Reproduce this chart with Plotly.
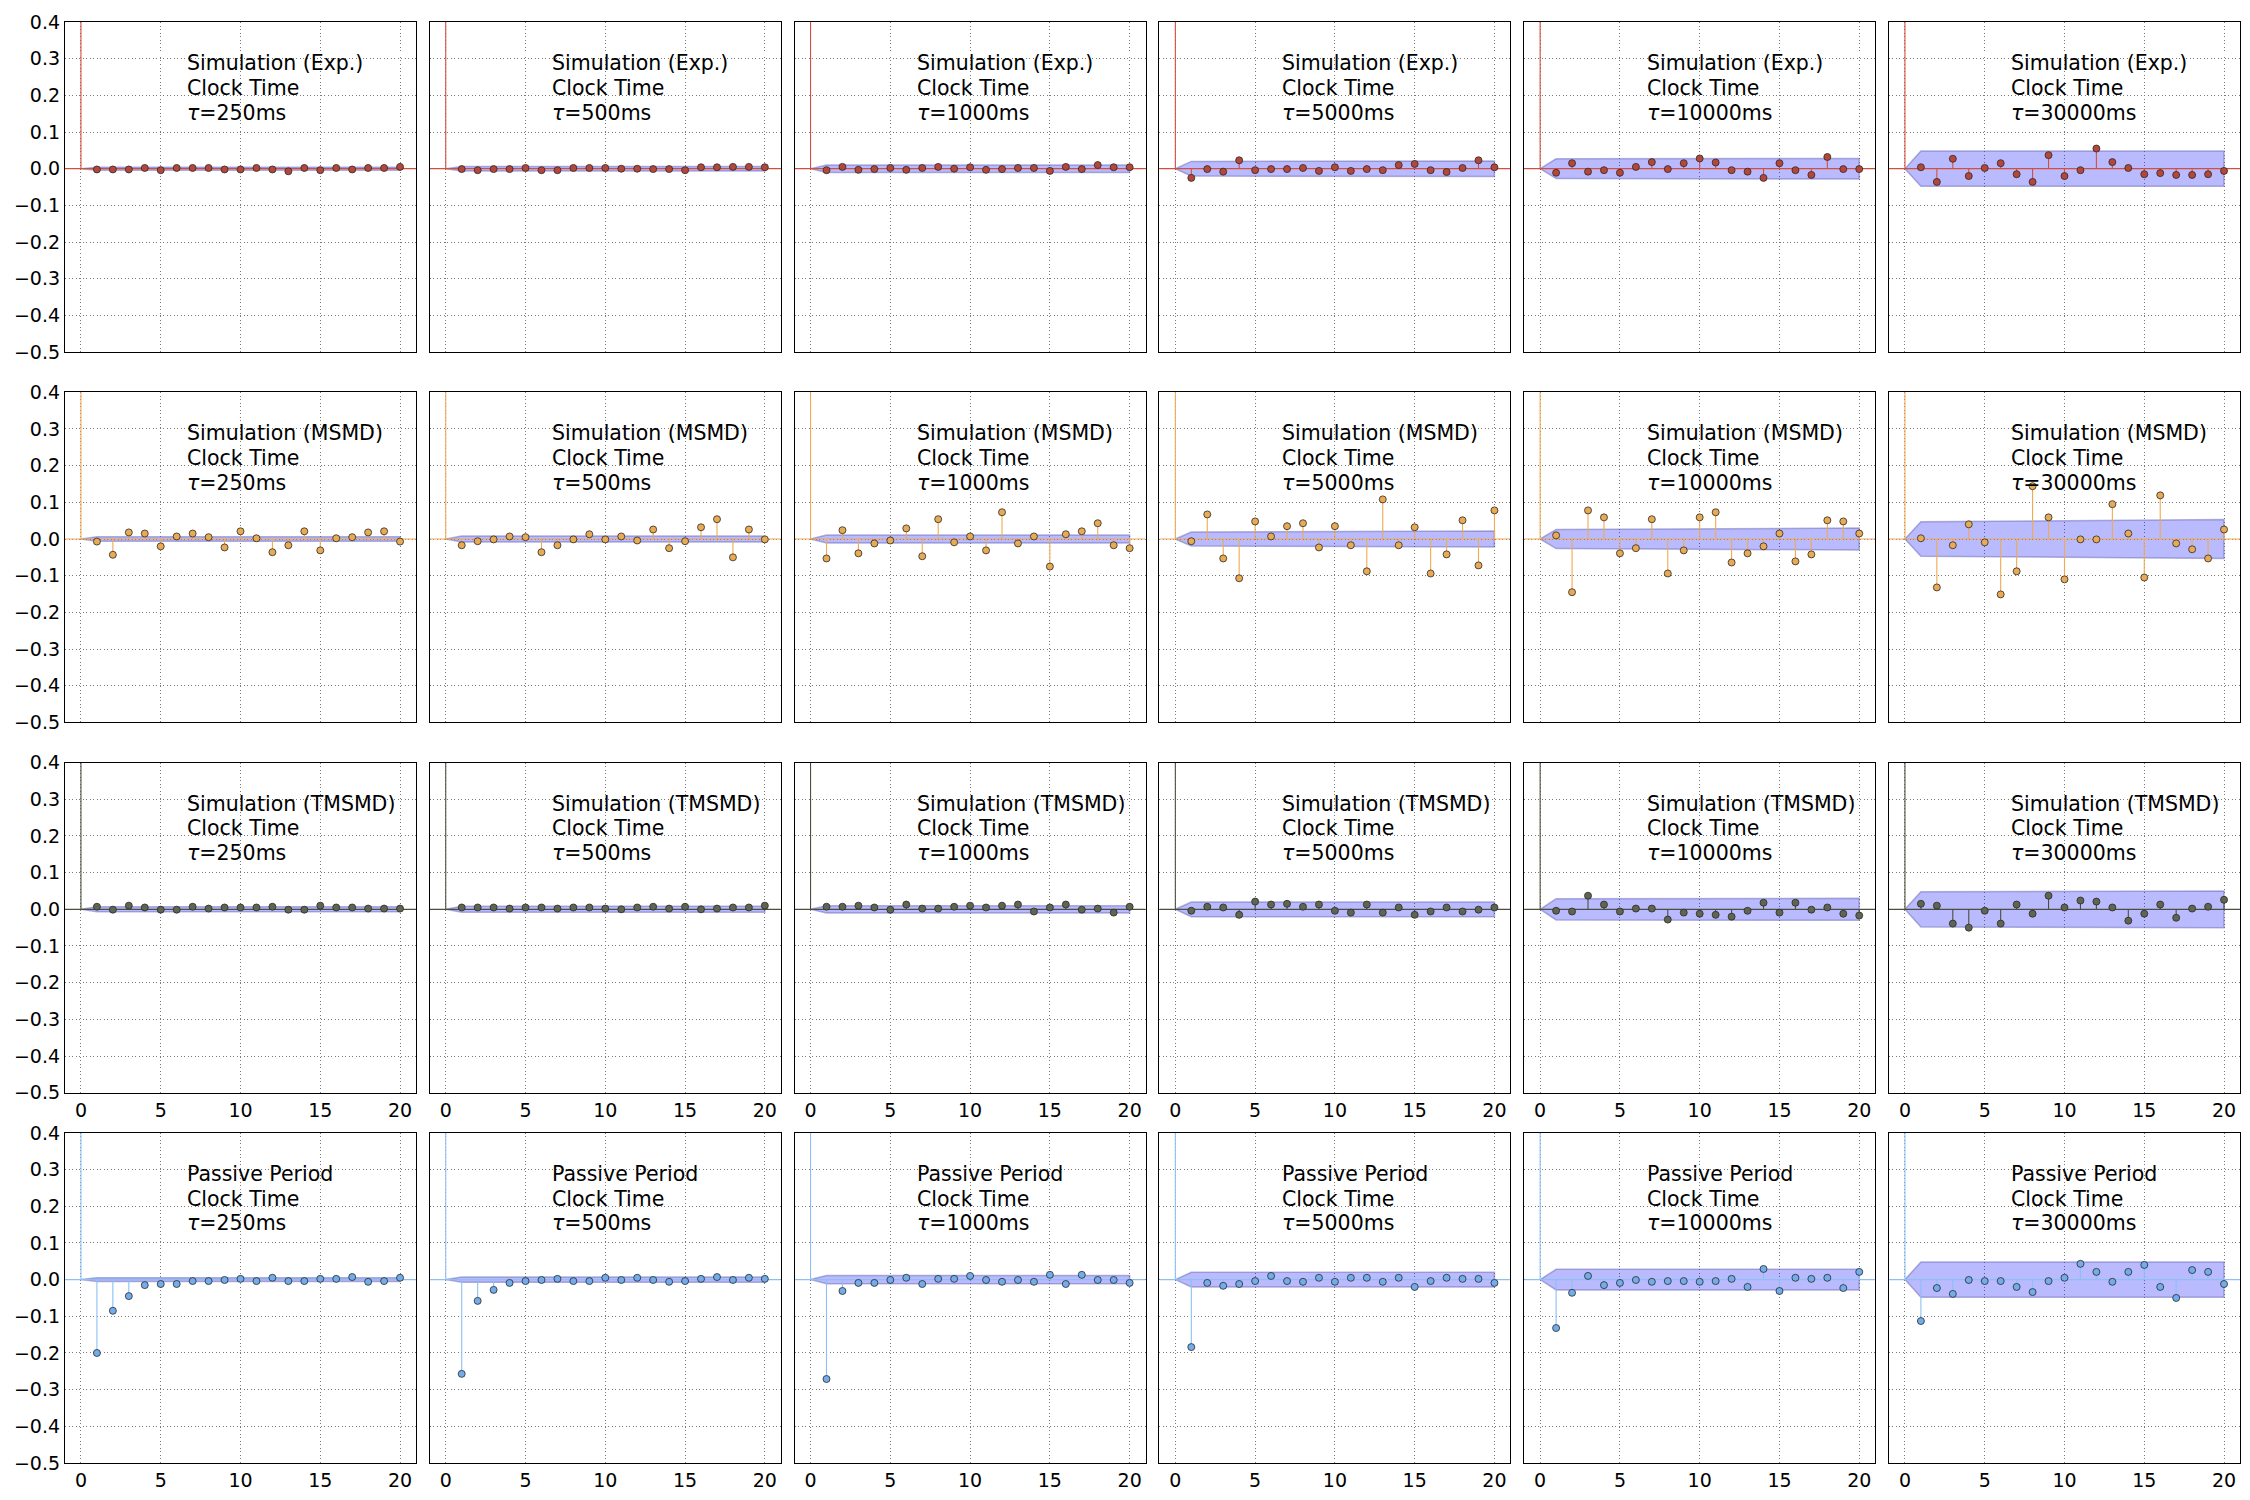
import plotly.graph_objects as go
from plotly.subplots import make_subplots

lags = list(range(21))
taus = ['250ms', '500ms', '1000ms', '5000ms', '10000ms', '30000ms']
row_names = ['Simulation (Exp.)', 'Simulation (MSMD)', 'Simulation (TMSMD)', 'Passive Period']

# autocorrelation at lags 1..20 (lag 0 is 1.0), one list per tau
exp_acf = [
    [-0.002, -0.002, -0.002, 0.002, -0.004, 0.002, 0.002, 0.002, -0.002, -0.002,
     0.002, -0.002, -0.007, 0.002, -0.004, 0.002, -0.002, 0.002, 0.002, 0.005],
    [-0.001, -0.004, -0.001, -0.001, 0.002, -0.004, -0.004, 0.002, 0.002, 0.002,
     0.0, 0.0, -0.001, -0.001, -0.004, 0.004, 0.004, 0.005, 0.005, 0.004],
    [-0.004, 0.005, -0.003, -0.001, 0.002, -0.003, 0.002, 0.005, 0.0, 0.004,
     -0.003, -0.001, 0.002, 0.002, -0.006, 0.005, -0.001, 0.01, 0.004, 0.004],
    [-0.025, -0.001, -0.008, 0.023, -0.004, -0.001, -0.001, 0.002, -0.006, 0.004,
     -0.006, -0.001, -0.004, 0.01, 0.013, -0.004, -0.009, 0.002, 0.023, 0.004],
    [-0.011, 0.015, -0.008, -0.004, -0.011, 0.005, 0.018, -0.001, 0.015, 0.028,
     0.017, -0.004, -0.008, -0.025, 0.015, -0.004, -0.017, 0.032, -0.001, -0.001],
    [0.004, -0.036, 0.027, -0.02, 0.002, 0.015, -0.015, -0.036, 0.037, -0.02,
     -0.004, 0.055, 0.018, 0.002, -0.015, -0.012, -0.017, -0.017, -0.015, -0.006],
]
msmd_acf = [
    [-0.007, -0.043, 0.018, 0.015, -0.02, 0.007, 0.015, 0.005, -0.023, 0.021,
     0.002, -0.036, -0.017, 0.021, -0.031, 0.002, 0.005, 0.018, 0.021, -0.007],
    [-0.017, -0.006, -0.001, 0.007, 0.005, -0.036, -0.017, -0.001, 0.013, -0.001,
     0.007, -0.004, 0.026, -0.025, -0.006, 0.032, 0.054, -0.05, 0.026, -0.001],
    [-0.053, 0.024, -0.039, -0.012, -0.004, 0.029, -0.047, 0.054, -0.009, 0.007,
     -0.031, 0.073, -0.012, 0.007, -0.075, 0.013, 0.021, 0.043, -0.017, -0.025],
    [-0.006, 0.067, -0.053, -0.107, 0.048, 0.007, 0.035, 0.043, -0.023, 0.035,
     -0.017, -0.088, 0.108, -0.017, 0.032, -0.094, -0.042, 0.051, -0.072, 0.078],
    [0.01, -0.145, 0.078, 0.059, -0.039, -0.025, 0.054, -0.094, -0.031, 0.059,
     0.073, -0.064, -0.039, -0.02, 0.015, -0.061, -0.042, 0.051, 0.048, 0.015],
    [0.002, -0.132, -0.017, 0.04, -0.009, -0.151, -0.088, 0.144, 0.059, -0.11,
     -0.001, -0.001, 0.095, 0.015, -0.105, 0.119, -0.012, -0.028, -0.053, 0.026],
]
tmsmd_acf = [
    [0.007, -0.001, 0.01, 0.005, -0.001, -0.001, 0.007, 0.002, 0.005, 0.005,
     0.005, 0.007, -0.001, -0.001, 0.01, 0.005, 0.005, 0.002, 0.002, 0.002],
    [0.005, 0.005, 0.005, 0.002, 0.005, 0.005, 0.002, 0.005, 0.005, 0.002,
     0.0, 0.005, 0.007, 0.002, 0.007, 0.0, 0.002, 0.005, 0.005, 0.01],
    [0.007, 0.007, 0.01, 0.005, -0.001, 0.013, 0.002, 0.002, 0.007, 0.01,
     0.005, 0.01, 0.013, -0.006, 0.005, 0.013, -0.001, 0.002, -0.009, 0.007],
    [-0.004, 0.007, 0.005, -0.015, 0.021, 0.013, 0.015, 0.007, 0.013, -0.004,
     -0.009, 0.013, -0.009, 0.005, -0.015, -0.006, 0.005, -0.006, -0.001, 0.005],
    [-0.004, -0.006, 0.037, 0.013, -0.006, 0.002, 0.002, -0.028, -0.009, -0.012,
     -0.015, -0.02, -0.004, 0.018, -0.009, 0.018, -0.001, 0.005, -0.012, -0.017],
    [0.015, 0.01, -0.039, -0.05, -0.004, -0.039, 0.013, -0.012, 0.037, 0.005,
     0.024, 0.021, 0.005, -0.031, -0.012, 0.013, -0.023, 0.002, 0.007, 0.026],
]
passive_acf = [
    [-0.2, -0.085, -0.045, -0.015, -0.012, -0.012, -0.004, -0.004, -0.001, 0.002,
     -0.004, 0.005, -0.004, -0.004, 0.002, 0.002, 0.007, -0.006, -0.004, 0.005],
    [-0.257, -0.058, -0.028, -0.009, -0.004, -0.001, 0.002, -0.004, -0.004, 0.005,
     -0.001, 0.005, -0.001, -0.006, -0.004, 0.002, 0.007, -0.001, 0.005, 0.002],
    [-0.271, -0.031, -0.009, -0.009, -0.001, 0.005, -0.012, 0.002, 0.002, 0.01,
     -0.001, -0.006, -0.001, -0.006, 0.013, -0.012, 0.013, -0.001, -0.001, -0.009],
    [-0.184, -0.009, -0.017, -0.012, -0.004, 0.01, -0.004, -0.006, 0.005, -0.006,
     0.005, 0.005, -0.006, 0.005, -0.02, -0.004, 0.005, 0.002, 0.002, -0.009],
    [-0.132, -0.036, 0.01, -0.015, -0.009, -0.001, -0.006, -0.004, -0.004, -0.006,
     -0.004, 0.002, -0.02, 0.029, -0.031, 0.005, 0.002, 0.005, -0.023, 0.021],
    [-0.113, -0.023, -0.039, -0.001, -0.004, -0.004, -0.02, -0.034, -0.004, 0.005,
     0.043, 0.021, -0.006, 0.021, 0.04, -0.02, -0.05, 0.026, 0.021, -0.012],
]

# confidence band half-width at lag 1 and at lag 20
exp_band = [(0.004, 0.004), (0.006, 0.006), (0.01, 0.01), (0.02, 0.021), (0.027, 0.028), (0.048, 0.048)]
msmd_band = [(0.006, 0.006), (0.008, 0.008), (0.011, 0.011), (0.019, 0.022), (0.026, 0.03), (0.047, 0.053)]
tmsmd_band = [(0.007, 0.007), (0.008, 0.008), (0.01, 0.01), (0.02, 0.02), (0.029, 0.03), (0.048, 0.05)]
passive_band = [(0.005, 0.005), (0.007, 0.007), (0.011, 0.011), (0.02, 0.02), (0.028, 0.028), (0.048, 0.048)]

all_acf = [exp_acf, msmd_acf, tmsmd_acf, passive_acf]
all_band = [exp_band, msmd_band, tmsmd_band, passive_band]
stem_colors = ['#d24f3e', '#f0aa50', '#4b503e', '#8cc0f4']
dot_colors = ['#b5473a', '#e8aa52', '#5f6551', '#72aceb']

fig = make_subplots(rows=4, cols=6,
                    horizontal_spacing=13.8 / 2176,
                    vertical_spacing=40.3 / 1445)

for r in range(4):
    for c in range(6):
        row, col = r + 1, c + 1
        vals = [1.0] + all_acf[r][c]
        w1, w20 = all_band[r][c]

        # confidence band
        fig.add_trace(go.Scatter(
            x=[0, 1, 20, 20, 1, 0], y=[0, w1, w20, -w20, -w1, 0],
            fill='toself', fillcolor='rgba(0,0,255,0.27)',
            line=dict(color='rgba(90,90,170,0.45)', width=1.5),
            mode='lines', hoverinfo='skip'), row=row, col=col)

        # zero line
        fig.add_trace(go.Scatter(
            x=[-1, 21], y=[0, 0], mode='lines',
            line=dict(color=stem_colors[r], width=1.2)), row=row, col=col)

        sx, sy = [], []
        for k, v in zip(lags, vals):
            sx += [k, k, None]
            sy += [0, v, None]
        fig.add_trace(go.Scatter(
            x=sx, y=sy, mode='lines',
            line=dict(color=stem_colors[r], width=1.1)), row=row, col=col)

        fig.add_trace(go.Scatter(
            x=lags, y=vals, mode='markers',
            marker=dict(color=dot_colors[r], size=7,
                        line=dict(color='#2a2a2a', width=0.8))), row=row, col=col)

        lines = [row_names[r], 'Clock Time', '<i>τ</i>=' + taus[c]]
        for i, t in enumerate(lines):
            fig.add_annotation(
                x=6.55, y=0.288 - 0.0675 * i, text=t, showarrow=False,
                xanchor='left', yanchor='middle',
                font=dict(family='DejaVu Sans', size=20.5, color='black'),
                row=row, col=col)

        fig.update_xaxes(
            range=[-1, 21], dtick=5, tick0=0,
            showticklabels=(r >= 2),
            row=row, col=col)
        fig.update_yaxes(
            range=[-0.5, 0.4], dtick=0.1, tick0=0, tickformat='.1f',
            showticklabels=(c == 0),
            row=row, col=col)

fig.update_xaxes(showgrid=True, gridcolor='#7a7a7a', griddash='1px,2.5px', gridwidth=1,
                 zeroline=False, showline=True, mirror=True, linecolor='black',
                 linewidth=1.3, ticks='', tickfont=dict(family='DejaVu Sans', size=19, color='black'))
fig.update_yaxes(showgrid=True, gridcolor='#7a7a7a', griddash='1px,2.5px', gridwidth=1,
                 zeroline=False, showline=True, mirror=True, linecolor='black',
                 linewidth=1.3, ticks='', tickfont=dict(family='DejaVu Sans', size=19, color='black'))

fig.update_layout(
    width=2250, height=1500,
    margin=dict(l=65, r=9, t=22, b=33),
    showlegend=False,
    plot_bgcolor='white', paper_bgcolor='white',
)

fig.write_html("out.html", config=dict(displayModeBar=False),
               post_script="document.body.style.margin='0';")
